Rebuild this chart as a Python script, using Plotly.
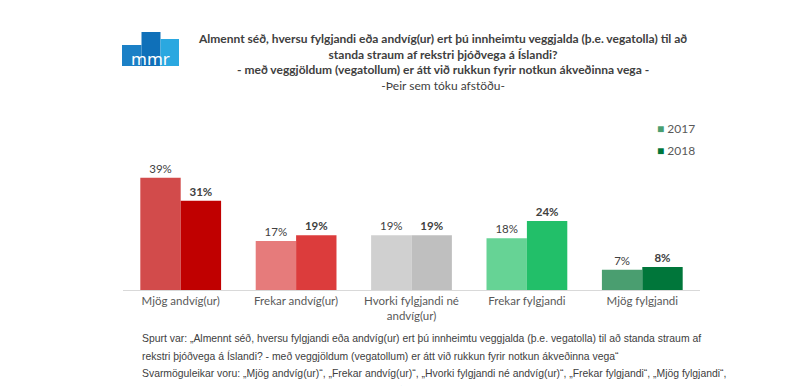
import plotly.graph_objects as go

categories = ["Mjög andvíg(ur)", "Frekar andvíg(ur)", "Hvorki fylgjandi né<br>andvíg(ur)",
              "Frekar fylgjandi", "Mjög fylgjandi"]
values_2017 = [39, 17, 19, 18, 7]
values_2018 = [31, 19, 19, 24, 8]
colors_2017 = ["#D24B4B", "#E67B7B", "#D0D0D0", "#66D395", "#4A9E70"]
colors_2018 = ["#C00000", "#DC3C3C", "#BFBFBF", "#22BF69", "#00763A"]
legend_names = ["2017", "2018"]
legend_colors = ["#4A9E70", "#00763A"]

title_lines = [
    "Almennt séð, hversu fylgjandi eða andvíg(ur) ert þú innheimtu veggjalda (þ.e. vegatolla) til að",
    "standa straum af rekstri þjóðvega á Íslandi?",
    "- með veggjöldum (vegatollum) er átt við rukkun fyrir notkun ákveðinna vega -",
    "-Þeir sem tóku afstöðu-",
]
footer_lines = [
    "Spurt var: „Almennt séð, hversu fylgjandi eða andvíg(ur) ert þú innheimtu veggjalda (þ.e. vegatolla) til að standa straum af",
    "rekstri þjóðvega á Íslandi? - með veggjöldum (vegatollum) er átt við rukkun fyrir notkun ákveðinna vega“",
    "Svarmöguleikar voru: „Mjög andvíg(ur)“, „Frekar andvíg(ur)“, „Hvorki fylgjandi né andvíg(ur)“, „Frekar fylgjandi“, „Mjög fylgjandi“,",
    "„Veit ekki“ og „Vil ekki svara“. Samtals tóku 85,5% afstöðu til spurningarinnar.",
]

OFF = 8  # page body margin
W, H = 802, 386
L, R, T, B = 123 - OFF, 102 + OFF, 110 - OFF, 96 + OFF
PW, PH = W - L - R, H - T - B


def px(x):
    return (x - OFF - L) / PW


def py(y):
    return (H - B - (y - OFF)) / PH


fig = go.Figure()
fig.add_trace(go.Bar(
    x=categories, y=values_2017, marker=dict(color=colors_2017, line=dict(width=0)),
    texttemplate="%{y}%", textposition="outside",
    textfont=dict(family="Lato", size=11.5, color="#404040"),
    cliponaxis=False, showlegend=False, hoverinfo="skip"))
fig.add_trace(go.Bar(
    x=categories, y=values_2018, marker=dict(color=colors_2018, line=dict(width=0)),
    texttemplate="<b>%{y}%</b>", textposition="outside",
    textfont=dict(family="Lato", size=11.5, color="#404040"),
    cliponaxis=False, showlegend=False, hoverinfo="skip"))

annotations = []
title_text = "<br>".join("<b>%s</b>" % t for t in title_lines[:3]) + "<br>" + title_lines[3]
annotations.append(dict(text=title_text, xref="paper", yref="paper", x=px(442), y=py(29),
                        xanchor="center", yanchor="top", showarrow=False, align="center",
                        font=dict(family="Lato", size=12, color="#404040")))
for i, line in enumerate(footer_lines):
    annotations.append(dict(text=line, xref="paper", yref="paper", x=px(140), y=py(338 + i * 17.5),
                            xanchor="left", yanchor="middle", showarrow=False, align="left",
                            font=dict(family="Liberation Sans, Arial", size=10.4, color="#404040")))
for i, (name, col) in enumerate(zip(legend_names, legend_colors)):
    annotations.append(dict(text='<span style="color:%s">■</span> %s' % (col, name),
                            xref="paper", yref="paper", x=px(655), y=py(128 + i * 22),
                            xanchor="left", yanchor="middle", showarrow=False,
                            font=dict(family="Lato", size=12, color="#595959")))
annotations.append(dict(text="mmr", xref="paper", yref="paper", x=px(150), y=py(59),
                        xanchor="center", yanchor="middle", showarrow=False,
                        font=dict(family="Noto Sans", size=17, color="white")))

shapes = []
for (x0, x1, y0, col) in [(122, 141.5, 45, "#1B80C6"), (141.5, 160.5, 32, "#0F70B9"), (160.5, 179, 39, "#2AA8E0")]:
    shapes.append(dict(type="rect", xref="paper", yref="paper", x0=px(x0), x1=px(x1),
                       y0=py(66), y1=py(y0), fillcolor=col, line=dict(width=0), layer="below"))

fig.update_layout(
    width=W, height=H, margin=dict(l=L, r=R, t=T, b=B),
    paper_bgcolor="white", plot_bgcolor="white",
    barmode="group", bargap=0.3, bargroupgap=0,
    font=dict(family="Lato", color="#595959"),
    showlegend=False,
    xaxis=dict(showline=True, linecolor="#D9D9D9", linewidth=1, ticks="",
               tickfont=dict(family="Lato", size=11.5, color="#595959"), showgrid=False),
    yaxis=dict(visible=False, range=[0, 62.5], showgrid=False, zeroline=False),
    annotations=annotations, shapes=shapes,
)
fig.write_html("out.html")
